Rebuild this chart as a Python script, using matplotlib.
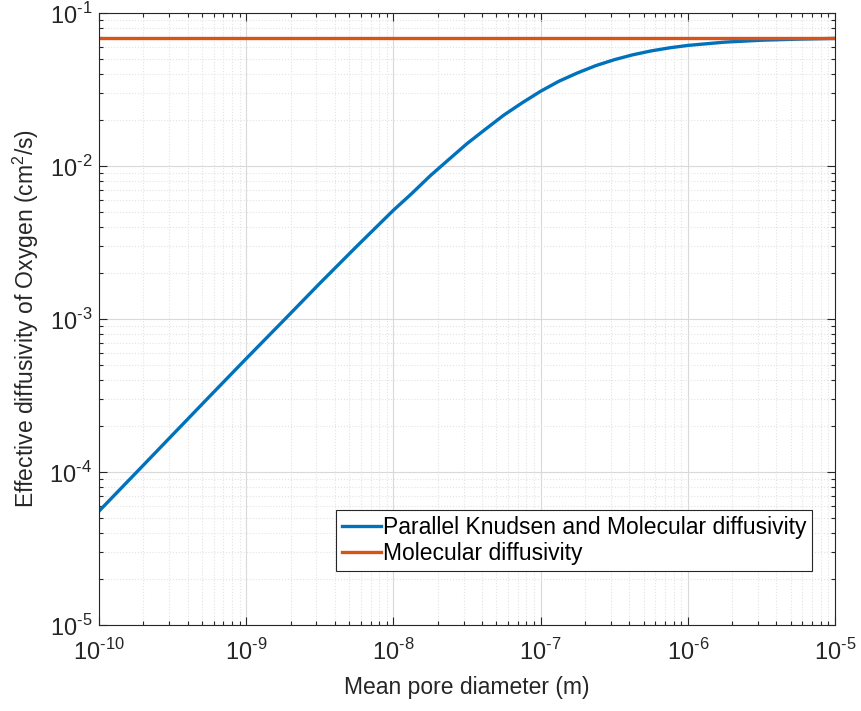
import numpy as np
import matplotlib.pyplot as plt
from matplotlib.ticker import FuncFormatter, NullFormatter

plt.rcParams['font.family'] = ['Liberation Sans', 'DejaVu Sans']
plt.rcParams['mathtext.fontset'] = 'custom'
plt.rcParams['mathtext.rm'] = 'Liberation Sans'

# Values (pore diameter in m, diffusivity in cm^2/s)
pore_d = [1e-10, 1.78e-10, 3.16e-10, 5.62e-10, 1e-9, 1.78e-9, 3.16e-9, 5.62e-9,
          1e-8, 1.33e-8, 1.78e-8, 2.37e-8, 3.16e-8, 4.22e-8, 5.62e-8, 7.5e-8,
          1e-7, 1.33e-7, 1.78e-7, 2.37e-7, 3.16e-7, 4.22e-7, 5.62e-7, 7.5e-7,
          1e-6, 1.78e-6, 3.16e-6, 5.62e-6, 1e-5]
d_parallel = [5.55e-5, 9.86e-5, 1.75e-4, 3.11e-4, 5.51e-4, 9.7e-4, 1.71e-3, 2.98e-3,
              5.14e-3, 6.6e-3, 8.64e-3, 1.1e-2, 1.40e-2, 1.74e-2, 2.15e-2, 2.59e-2,
              3.08e-2, 3.58e-2, 4.06e-2, 4.53e-2, 4.95e-2, 5.33e-2, 5.65e-2, 5.92e-2,
              6.14e-2, 6.45e-2, 6.64e-2, 6.75e-2, 6.82e-2]
d_molecular = 0.0683

blue = '#0072BD'
orange = '#D95319'
axcol = '#262626'


def pow10(v, pos):
    n = int(round(np.log10(v)))
    return r'$10^{\text{-}%d}$' % (-n)


fig = plt.figure(figsize=(8.62, 7.11), dpi=100)
ax = fig.add_axes([0.1149, 0.121, 0.8538, 0.8607])

ax.plot(pore_d, d_parallel, color=blue, lw=2.4, label='Parallel Knudsen and Molecular diffusivity')
ax.plot([pore_d[0], pore_d[-1]], [d_molecular, d_molecular], color=orange, lw=2.4,
        label='Molecular diffusivity')

ax.set_xscale('log')
ax.set_yscale('log')
ax.set_xlim(1e-10, 1e-5)
ax.set_ylim(1e-5, 1e-1)
ax.xaxis.set_major_formatter(FuncFormatter(pow10))
ax.yaxis.set_major_formatter(FuncFormatter(pow10))
ax.xaxis.set_minor_formatter(NullFormatter())
ax.yaxis.set_minor_formatter(NullFormatter())

ax.grid(True, which='major', color='#d9d9d9', lw=0.8, ls='-')
ax.grid(True, which='minor', color='#e3e3e3', lw=0.8, ls=':')
ax.set_axisbelow(True)

ax.tick_params(which='both', direction='in', top=True, right=True, colors=axcol,
               labelsize=17)
ax.tick_params(axis='x', which='major', pad=10)
ax.tick_params(axis='y', which='major', pad=5)
ax.tick_params(which='major', length=6, width=0.8)
ax.tick_params(which='minor', length=3, width=0.8)
for s in ax.spines.values():
    s.set_color(axcol)
    s.set_linewidth(0.8)

ax.set_xlabel('Mean pore diameter (m)', fontsize=16.5, color=axcol, labelpad=8)
ax.set_ylabel('Effective diffusivity of Oxygen (cm$^2$/s)', fontsize=16.5, color=axcol,
              labelpad=6)

leg = ax.legend(loc='lower right', bbox_to_anchor=(0.969, 0.088), borderaxespad=0,
                fontsize=16.5, fancybox=False, framealpha=1, edgecolor=axcol,
                handlelength=1.7, handletextpad=0.1, borderpad=0.25, labelspacing=0.15)
leg.get_frame().set_linewidth(0.8)

plt.savefig('out.png', dpi=100)
